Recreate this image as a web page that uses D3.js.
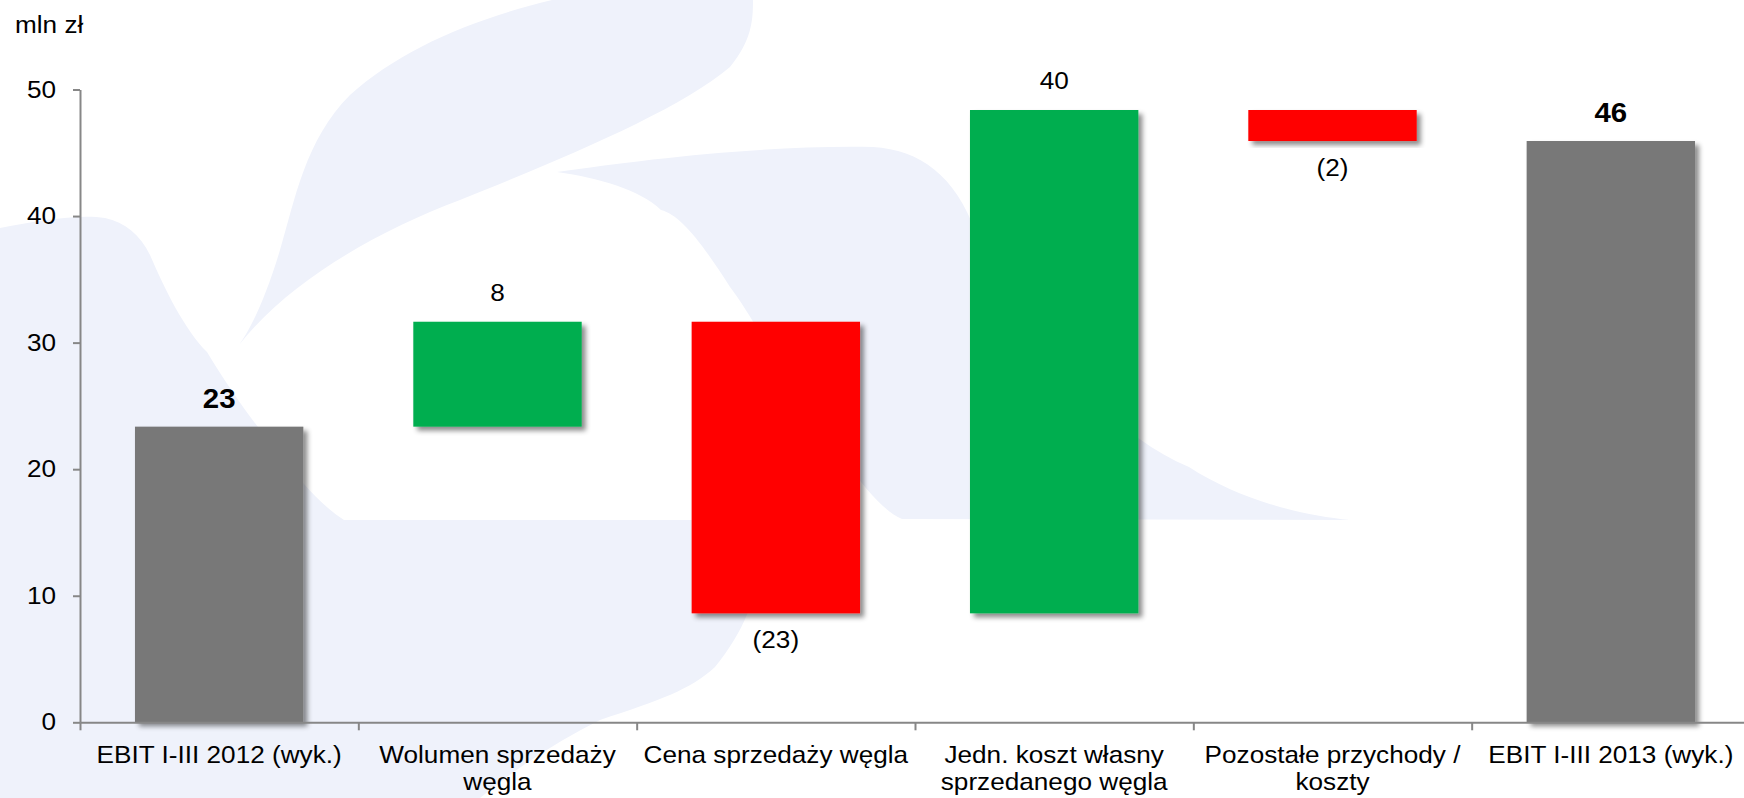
<!DOCTYPE html>
<html>
<head>
<meta charset="utf-8">
<script src="https://cdn.jsdelivr.net/npm/d3@7"></script>
<style>
  html, body { margin: 0; padding: 0; background: #ffffff; }
  svg { display: block; }
  text { font-family: "Liberation Sans", Arial, sans-serif; fill: #000; }
</style>
</head>
<body>
<svg id="chart" width="1744" height="798"></svg>
<script>
// ---------------- data ----------------
const categories = [
  "EBIT I-III 2012 (wyk.)",
  "Wolumen sprzedaży węgla",
  "Cena sprzedaży węgla",
  "Jedn. koszt własny sprzedanego węgla",
  "Pozostałe przychody / koszty",
  "EBIT I-III 2013 (wyk.)"
];
const categoryLines = [
  ["EBIT I-III 2012 (wyk.)"],
  ["Wolumen sprzedaży", "węgla"],
  ["Cena sprzedaży węgla"],
  ["Jedn. koszt własny", "sprzedanego węgla"],
  ["Pozostałe przychody /", "koszty"],
  ["EBIT I-III 2013 (wyk.)"]
];
const barKinds = ["total", "increase", "decrease", "increase", "decrease", "total"];
const barValues = [23.36, 8.29, -23.04, 39.77, -2.45, 45.93];
const valueLabels = ["23", "8", "(23)", "40", "(2)", "46"];
const yTickValues = [0, 10, 20, 30, 40, 50];
const unitLabel = "mln zł";

// ---------------- layout ----------------
const W = 1744, H = 798;
const plotLeft = 80, plotRight = 1750, yZero = 722.3, yTop = 89.5;
const STRETCH = 1.09;
const colors = { total: "#787878", increase: "#00AE50", decrease: "#FF0000" };

const svg = d3.select("#chart");

// watermark (decorative logo in background)
const wmColor = "#EFF2FB";
const wm = svg.append("g").attr("class", "watermark");
const wmPaths = [
  "M552,0 C470,20 400,50 350,95 C305,140 295,200 280,250 C265,300 250,330 239,345 C290,280 380,230 460,200 C560,160 680,110 730,67 C752,40 753,20 753,0 Z",
  "M557,172 C640,160 760,145 873,147 C920,150 955,175 976,233 C1030,330 1100,430 1189,467 C1240,500 1300,515 1350,520 L902,519 C870,505 840,450 787,383 C760,330 740,300 730,287 C700,240 680,215 661,210 C640,190 600,178 557,172 Z",
  "M0,228 C40,220 80,214 105,218 C125,222 140,235 150,255 C165,290 185,330 207,352 C230,390 255,425 275,448 C295,475 320,505 344,520 L740,520 C760,525 765,540 761,560 C755,600 745,630 715,667 C690,690 660,700 600,720 C560,740 520,765 480,798 L0,798 Z"
];
wm.selectAll("path").data(wmPaths).join("path")
  .attr("d", d => d).attr("fill", wmColor);

// scales
const x = d3.scaleBand().domain(categories).range([plotLeft, plotRight])
  .paddingInner(0.395).paddingOuter(0.1975);
const xEdges = d3.scaleLinear().domain([0, categories.length]).range([plotLeft, plotRight]);
const y = d3.scaleLinear().domain([0, 50]).range([yZero, yTop]);

// shadow filter
const defs = svg.append("defs");
const f = defs.append("filter").attr("id", "shadow")
  .attr("x", "-10%").attr("y", "-10%").attr("width", "130%").attr("height", "130%");
f.append("feDropShadow").attr("dx", 4).attr("dy", 4).attr("stdDeviation", 2.6)
  .attr("flood-color", "#000").attr("flood-opacity", 0.45);

// waterfall data
let running = 0;
const bars = categories.map((c, i) => {
  const v = barValues[i];
  let lo, hi;
  if (barKinds[i] === "total") { lo = 0; hi = v; running = v; }
  else { const s = running; running = s + v; lo = Math.min(s, running); hi = Math.max(s, running); }
  return { cat: c, kind: barKinds[i], lo, hi, label: valueLabels[i] };
});

// axes
const axisColor = "#878787";
const yAxis = svg.append("g").attr("transform", `translate(${plotLeft},0)`)
  .call(d3.axisLeft(y).tickValues(yTickValues).tickSize(7).tickSizeOuter(0).tickFormat(d3.format("d")));
yAxis.select(".domain").attr("stroke", axisColor).attr("stroke-width", 2);
yAxis.selectAll(".tick line").attr("stroke", axisColor).attr("stroke-width", 2);
yAxis.selectAll(".tick text")
  .attr("font-size", 24).attr("font-family", '"Liberation Sans", Arial, sans-serif')
  .attr("fill", "#000")
  .attr("x", -24 / STRETCH)
  .attr("transform", `scale(${STRETCH},1)`);

// bars
svg.append("g").selectAll("rect").data(bars).join("rect")
  .attr("x", d => x(d.cat))
  .attr("width", x.bandwidth())
  .attr("y", d => y(d.hi))
  .attr("height", d => y(d.lo) - y(d.hi))
  .attr("fill", d => colors[d.kind])
  .attr("filter", "url(#shadow)");

const xAxis = svg.append("g").attr("transform", `translate(0,${yZero})`)
  .call(d3.axisBottom(xEdges).tickValues(d3.range(categories.length + 1)).tickSize(8).tickSizeOuter(0).tickFormat(""));
xAxis.select(".domain").attr("stroke", axisColor).attr("stroke-width", 2);
xAxis.selectAll(".tick line").attr("stroke", axisColor).attr("stroke-width", 2);

// helper for stretched text
function stext(g, tx, ty, str, size, weight) {
  return g.append("text")
    .attr("transform", `translate(${tx},${ty}) scale(${STRETCH},1)`)
    .attr("text-anchor", "middle")
    .attr("font-size", size)
    .attr("font-weight", weight || "normal")
    .text(str);
}

// category labels
const catG = svg.append("g");
categories.forEach((c, i) => {
  const cx = x(c) + x.bandwidth() / 2;
  categoryLines[i].forEach((ln, j) => {
    stext(catG, cx, 763 + j * 27, ln, 24);
  });
});

// value labels
const valG = svg.append("g");
bars.forEach(d => {
  const cx = x(d.cat) + x.bandwidth() / 2;
  if (d.kind === "total") {
    stext(valG, cx, y(d.hi) - 19, d.label, 27, "bold");
  } else if (d.kind === "increase") {
    stext(valG, cx, y(d.hi) - 21, d.label, 24);
  } else {
    stext(valG, cx, y(d.lo) + 35, d.label, 24);
  }
});

// unit label
svg.append("text")
  .attr("transform", `translate(15,33) scale(${STRETCH},1)`)
  .attr("font-size", 24)
  .text(unitLabel);
</script>
</body>
</html>
